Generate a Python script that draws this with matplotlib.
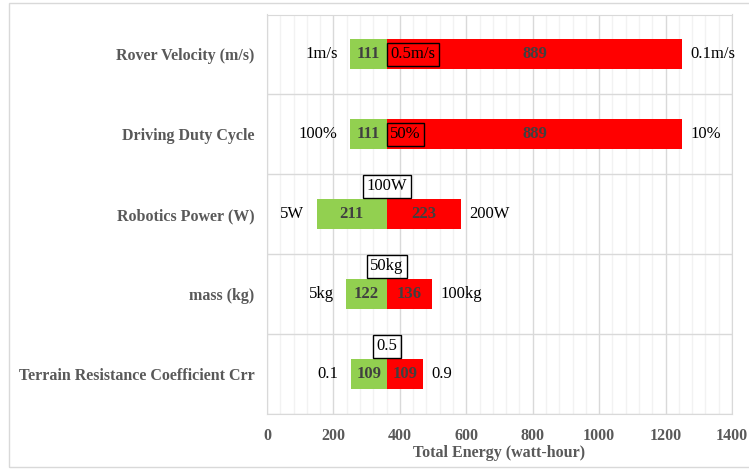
import numpy as np
import matplotlib.pyplot as plt
from matplotlib.patches import Rectangle

# tornado chart data, top row first
categories = ['Rover Velocity (m/s)', 'Driving Duty Cycle', 'Robotics Power (W)',
              'mass (kg)', 'Terrain Resistance Coefficient Crr']
baseline = 361
lowDelta = [111, 111, 211, 122, 109]    # green part, left of baseline
highDelta = [889, 889, 223, 136, 109]   # red part, right of baseline
lowLabels = ['1m/s', '100%', '5W', '5kg', '0.1']
highLabels = ['0.1m/s', '10%', '200W', '100kg', '0.9']
baseLabels = ['0.5m/s', '50%', '100W', '50kg', '0.5']
boxInside = [True, True, False, False, False]  # baseline label sits inside the bar
xticks = [0, 200, 400, 600, 800, 1000, 1200, 1400]

grey = '#595959'
serif = ['Liberation Serif', 'DejaVu Serif']

fig = plt.figure(figsize=(7.49, 4.69), dpi=100)
fig.patches.append(Rectangle((9/749, 2/469), 760/749, 464/469, transform=fig.transFigure,
                             fill=False, edgecolor='#D9D9D9', lw=1))
ax = fig.add_axes([267/749, 55/469, 465/749, 399.5/469])

n = len(categories)
ypos = np.arange(n)[::-1]
barH = 0.375

for i in range(n):
    y = ypos[i]
    ax.barh(y, lowDelta[i], left=baseline - lowDelta[i], height=barH, color='#92D050', zorder=3)
    ax.barh(y, highDelta[i], left=baseline, height=barH, color='#FF0000', zorder=3)
    # numbers inside bars
    ax.text(baseline - lowDelta[i] / 2, y, str(lowDelta[i]), ha='center', va='center',
            fontsize=12, fontweight='bold', color='#404040', family=serif, zorder=4)
    ax.text(baseline + highDelta[i] / 2, y, str(highDelta[i]), ha='center', va='center',
            fontsize=12, fontweight='bold', color='#404040', family=serif, zorder=4)
    # parameter values at the bar ends
    ax.annotate(lowLabels[i], (baseline - lowDelta[i], y), xytext=(-9, 0), textcoords='offset points',
                ha='right', va='center', fontsize=12, family=serif, color='black')
    ax.annotate(highLabels[i], (baseline + highDelta[i], y), xytext=(6, 0), textcoords='offset points',
                ha='left', va='center', fontsize=12, family=serif, color='black')
    box = dict(boxstyle='square,pad=0.2', facecolor='none', edgecolor='black', lw=1)
    if boxInside[i]:
        ax.annotate(baseLabels[i], (baseline, y), xytext=(2.5, 0), textcoords='offset points',
                    ha='left', va='center', fontsize=12, family=serif, bbox=box, zorder=5)
    else:
        ax.annotate(baseLabels[i], (baseline, y + barH / 2), xytext=(0, 3.5), textcoords='offset points',
                    ha='center', va='bottom', fontsize=12, family=serif, bbox=box, zorder=5)

ax.set_xlim(0, 1400)
ax.set_ylim(-0.5, n - 0.5)
ax.set_xticks(xticks)
ax.set_xticks(np.arange(0, 1401, 40), minor=True)
ax.set_xticklabels([str(t) for t in xticks], fontsize=11.5, fontweight='bold', color=grey, family=serif)
ax.set_yticks(ypos)
ax.set_yticklabels(categories, fontsize=11.5, fontweight='bold', color=grey, family=serif)
ax.set_yticks(np.arange(-0.5, n, 1), minor=True)
ax.tick_params(which='both', length=0)
ax.tick_params(axis='x', pad=10)
ax.tick_params(axis='y', pad=9)

ax.grid(which='major', axis='x', color='#D9D9D9', lw=1, zorder=0)
ax.grid(which='minor', axis='x', color='#F2F2F2', lw=1, zorder=0)
ax.grid(which='minor', axis='y', color='#D9D9D9', lw=1, zorder=0)
ax.set_axisbelow(True)
for s in ax.spines.values():
    s.set_color('#D9D9D9')

ax.set_xlabel('Total Energy (watt-hour)', fontsize=11.5, fontweight='bold', color=grey,
              family=serif, labelpad=1)

fig.savefig('out.png', dpi=100)
